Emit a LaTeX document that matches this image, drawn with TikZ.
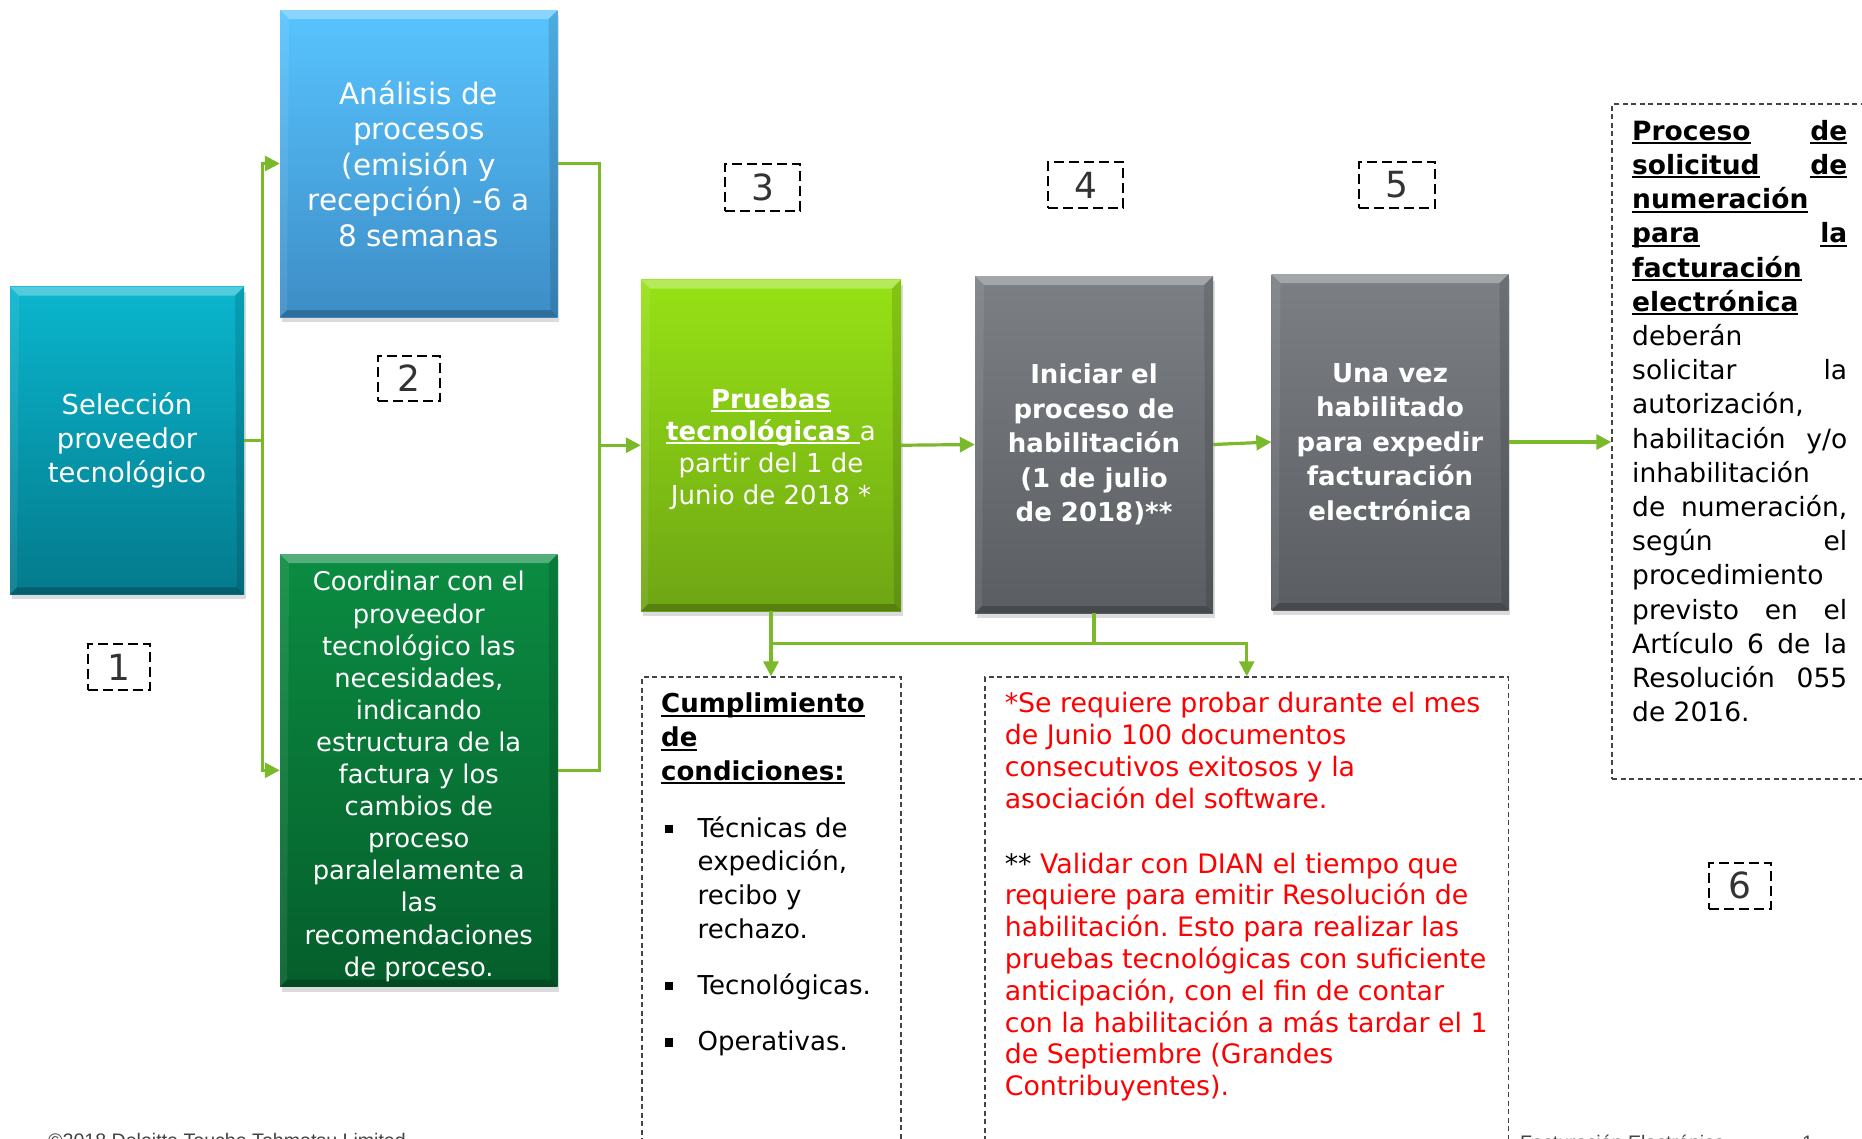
\documentclass[tikz,border=0pt]{standalone}
\usepackage{fontspec}
\setmainfont{DejaVu Sans}
\newfontfamily\footfont{Liberation Sans}
\usetikzlibrary{arrows.meta,shadows}
\frenchspacing
\definecolor{tealT}{HTML}{0AB6CE}
\definecolor{tealB}{HTML}{047A8C}
\definecolor{blueT}{HTML}{58C4FF}
\definecolor{blueB}{HTML}{3D8DC6}
\definecolor{dgreenT}{HTML}{0B8C42}
\definecolor{dgreenB}{HTML}{055E2B}
\definecolor{limeT}{HTML}{97E215}
\definecolor{limeB}{HTML}{6EA514}
\definecolor{grayT}{HTML}{7C8085}
\definecolor{grayB}{HTML}{5A5E62}
\definecolor{lineGreen}{HTML}{7AB929}
\definecolor{dashGray}{HTML}{444444}
\definecolor{numGray}{HTML}{333333}
\definecolor{footGray}{HTML}{444444}
\newcommand\uw[1]{\setbox0\hbox{#1}\rlap{\rule[-0.15em]{\wd0}{0.075em}}\box0\relax}
\newcommand\fs[2]{\fontsize{#1}{#2}\selectfont}
\newcommand\bul{\makebox[36.5pt][l]{\hspace*{4pt}\rule[4pt]{7.5pt}{8.5pt}}}
\newcommand\ind{\hspace*{36.5pt}}
\newcommand\jl[1]{\makebox[215pt][s]{#1}}
\tikzset{
  bevel/.style={path picture={
    \path (path picture bounding box.north west) coordinate (pNW)
          (path picture bounding box.north east) coordinate (pNE)
          (path picture bounding box.south west) coordinate (pSW)
          (path picture bounding box.south east) coordinate (pSE);
    \fill[white,opacity=.30] (pNW) -- (pNE) -- ([xshift=-9pt,yshift=-9pt]pNE) -- ([xshift=9pt,yshift=-9pt]pNW) -- cycle;
    \fill[white,opacity=.08] (pNW) -- ([xshift=9pt,yshift=-9pt]pNW) -- ([xshift=7pt,yshift=7pt]pSW) -- (pSW) -- cycle;
    \fill[black,opacity=.12] (pNE) -- (pSE) -- ([xshift=-7pt,yshift=7pt]pSE) -- ([xshift=-9pt,yshift=-9pt]pNE) -- cycle;
    \fill[black,opacity=.22] (pSW) -- (pSE) -- ([xshift=-7pt,yshift=7pt]pSE) -- ([xshift=7pt,yshift=7pt]pSW) -- cycle;
  }},
  box/.style={rectangle, inner sep=0pt, text=white, align=center, bevel,
    drop shadow={opacity=0.28, shadow xshift=1.5pt, shadow yshift=-5pt}},
  conn/.style={draw=lineGreen, line width=3.2pt, -{Triangle[length=15pt,width=15pt]}},
  connline/.style={draw=lineGreen, line width=3.2pt},
  dbox/.style={rectangle, draw=dashGray, line width=1.4pt, dash pattern=on 5pt off 3.5pt, inner sep=0pt},
  numlab/.style={rectangle, draw=black, line width=2pt, dash pattern=on 10pt off 5pt,
    text=numGray, font=\fs{36}{36}, inner sep=0pt},
  txt/.style={anchor=north west, inner sep=0pt, align=left},
}
\begin{document}
\begin{tikzpicture}[x=1pt,y=-1pt]
\useasboundingbox (0,0) rectangle (1862,1138);
\fill[white] (0,0) rectangle (1862,1138);
\clip (0,0) rectangle (1862,1138);

% main boxes
\node[box, minimum width=234pt, minimum height=307.6pt, top color=tealT, bottom color=tealB, font=\fs{27.4}{33.8}]
  (b1) at (127,440.5) {Selección\\proveedor\\tecnológico};
\node[box, minimum width=277.5pt, minimum height=307pt, top color=blueT, bottom color=blueB, font=\fs{29.5}{35.5}]
  (b2a) at (418.75,163.5) {Análisis de\\procesos\\(emisión y\\recepción) -6 a\\8 semanas};
\node[box, minimum width=277.5pt, minimum height=432.5pt, top color=dgreenT, bottom color=dgreenB, font=\fs{25.8}{32.1}]
  (b2b) at (418.75,770.25) {\rule{0pt}{32pt}Coordinar con el\\proveedor\\tecnológico las\\necesidades,\\indicando\\estructura de la\\factura y los\\cambios de\\proceso\\paralelamente a\\las\\recomendaciones\\de proceso.};
\node[box, minimum width=260pt, minimum height=331.5pt, top color=limeT, bottom color=limeB, font=\fs{26}{32}]
  (b3) at (771,445.25) {\rule{0pt}{27pt}\uw{\textbf{Pruebas}}\\\uw{\textbf{tecnológicas }}a\\partir del 1 de\\Junio de 2018 *};
\node[box, minimum width=238pt, minimum height=337pt, top color=grayT, bottom color=grayB, font=\fs{26}{34.4}\bfseries]
  (b4) at (1094,444.5) {Iniciar el\\proceso de\\habilitación\\(1 de julio\\de 2018)**};
\node[box, minimum width=237pt, minimum height=336pt, top color=grayT, bottom color=grayB, font=\fs{26}{34.4}\bfseries]
  (b5) at (1390,442) {Una vez\\habilitado\\para expedir\\facturación\\electrónica};

% dashed text boxes
\node[dbox, minimum width=259pt, minimum height=483pt] (c1) at (771.5,918.5) {};
\node[dbox, minimum width=523.5pt, minimum height=483pt] (rb) at (1246.75,918.5) {};
\node[dbox, minimum width=278pt, minimum height=675pt] (b6) at (1751,441.5) {};

\node[txt, font=\fs{26}{33.7}] (c1t) at (661,686.7)
  {\rule{0pt}{26pt}\uw{\textbf{Cumplimiento}}\\\uw{\textbf{de}}\\\uw{\textbf{condiciones:}}\\[23pt]
   \bul Técnicas de\\\ind expedición,\\\ind recibo y\\\ind rechazo.\\[22.5pt]
   \bul Tecnológicas.\\[22.5pt]
   \bul Operativas.};

\node[txt, text=red, font=\fs{26.8}{31.8}] (rbt) at (1004.6,685.9)
  {\rule{0pt}{26.8pt}*Se requiere probar durante el mes\\de Junio 100 documentos\\consecutivos exitosos y la\\asociación del software.\\[33pt]
   {\color{black}**} Validar con DIAN el tiempo que\\requiere para emitir Resolución de\\habilitación. Esto para realizar las\\pruebas tecnológicas con suficiente\\anticipación, con el fin de contar\\con la habilitación a más tardar el 1\\de Septiembre (Grandes\\Contribuyentes).};

\node[txt, font=\fs{26.5}{34.2}] (b6t) at (1632,113.5)
  {\rule{0pt}{26.5pt}\jl{\uw{\textbf{Proceso}} \uw{\textbf{de}}}\\
   \jl{\uw{\textbf{solicitud}} \uw{\textbf{de}}}\\
   \uw{\textbf{numeración}}\\
   \jl{\uw{\textbf{para}} \uw{\textbf{la}}}\\
   \uw{\textbf{facturación}}\\
   \uw{\textbf{electrónica}}\\
   deberán\\
   \jl{solicitar la}\\
   autorización,\\
   \jl{habilitación y/o}\\
   inhabilitación\\
   \jl{de numeración,}\\
   \jl{según el}\\
   procedimiento\\
   \jl{previsto en el}\\
   \jl{Artículo 6 de la}\\
   \jl{Resolución 055}\\
   de 2016.};

% step numbers
\node[numlab, minimum width=62pt, minimum height=46pt] (n1) at (118.7,667) {1};
\node[numlab, minimum width=62pt, minimum height=45pt] (n2) at (409,378.5) {2};
\node[numlab, minimum width=75pt, minimum height=47pt] (n3) at (762.5,187.5) {3};
\node[numlab, minimum width=75pt, minimum height=46pt] (n4) at (1085.5,185) {4};
\node[numlab, minimum width=76pt, minimum height=46pt] (n5) at (1397,185) {5};
\node[numlab, minimum width=62pt, minimum height=46pt] (n6) at (1739.5,885.5) {6};

% connectors
\draw[conn] (b1.east) -- ++(18,0) |- (b2a.west);
\draw[conn] (b1.east) -- ++(18,0) |- (b2b.west);
\path (b2a.east) ++(42,0) coordinate (m2);
\draw[connline] (b2a.east) -- (m2) |- (b2b.east);
\draw[conn] (m2 |- b3.west) -- (b3.west);
\draw[conn] (b3.east) -- (b4.west);
\draw[conn] (b4.east) -- (b5.west);
\draw[conn] (b5.east) -- (b5.east -| b6.west);
\path (b3.south) ++(0,32) coordinate (hj);
\draw[conn] (b3.south) -- (b3.south |- c1.north);
\draw[conn] (b3.south) -- (hj) -| (rb.north);
\draw[connline] (b4.south) -- (b4.south |- hj);

% footer (cut by page edge, as in the reference)
\node[anchor=base west, inner sep=0pt, text=footGray, font=\footfont\fs{19.6}{23}] (f1) at (48,1147) {©2018 Deloitte Touche Tohmatsu Limited};
\node[anchor=base west, inner sep=0pt, text=footGray, font=\footfont\fs{19.6}{23}] (f2) at (1520,1149) {Facturación Electrónica};
\node[anchor=base west, inner sep=0pt, text=footGray, font=\footfont\fs{19.6}{23}] (f3) at (1802,1149) {1};
\end{tikzpicture}
\end{document}
